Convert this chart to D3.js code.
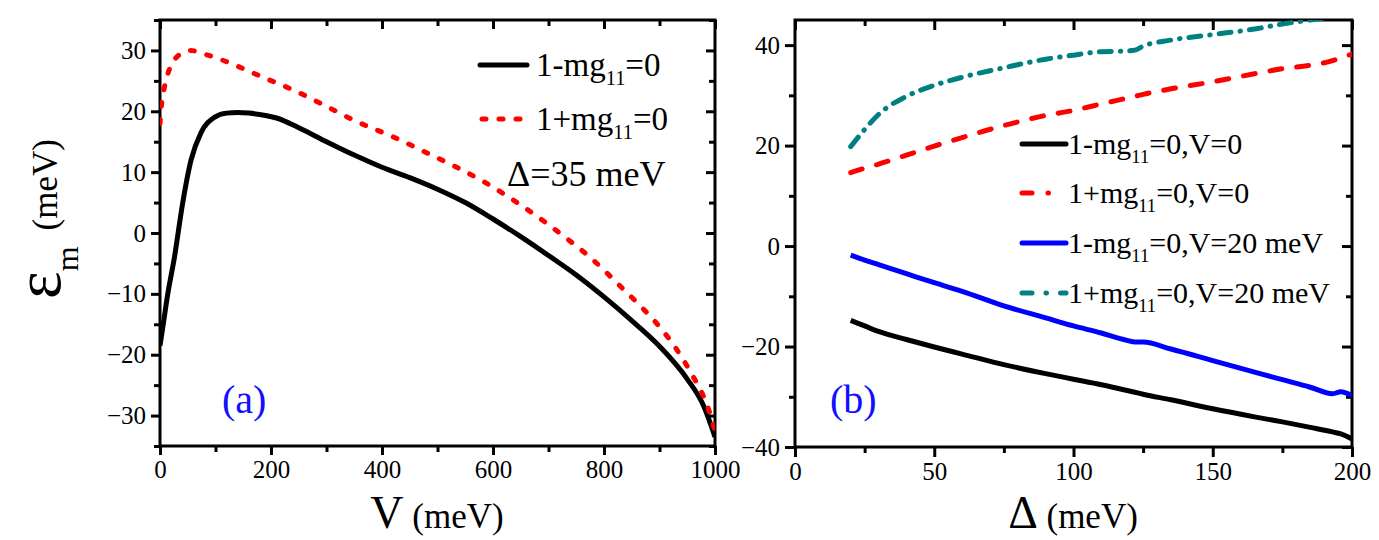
<!DOCTYPE html>
<html>
<head>
<meta charset="utf-8">
<script src="https://cdn.jsdelivr.net/npm/d3@7"></script>
<style>
  body { margin: 0; background: #fff; }
  svg text { font-family: 'Liberation Serif', Tinos, 'Times New Roman', Times, serif; }
</style>
</head>
<body>
<svg id="chart" width="1379" height="540"></svg>
<script>
// panel (a): eps_m vs V, Delta = 35 meV
const vBlack = [0, 5, 14, 26, 41, 56, 74, 98, 120, 140, 160, 190, 210, 250, 300, 350, 400, 450, 500, 550, 600, 650, 700, 750, 800, 850, 900, 950, 980, 1000]
const eBlack = [-18.5, -15.5, -10, -4, 5, 12, 16.5, 19, 19.7, 19.8, 19.7, 19.3, 18.9, 17.3, 15.0, 12.8, 10.8, 9.1, 7.2, 5.0, 2.3, -0.6, -3.7, -6.9, -10.5, -14.4, -18.6, -24.0, -28.5, -33.5]
const vRed = [0, 3, 8, 15, 25, 40, 55, 80, 110, 140, 180, 240, 300, 350, 420, 480, 530, 580, 630, 680, 730, 780, 830, 870, 900, 930, 960, 980, 990, 1000]
const eRed = [18, 21.3, 24, 26.4, 28.3, 29.6, 30, 29.4, 28.5, 27.4, 25.8, 23.5, 20.8, 18.5, 15.8, 13.2, 11, 8.6, 5.8, 2.7, -0.7, -4.4, -8.8, -12.4, -15.4, -19.0, -23.5, -27, -29.4, -32.5]

// panel (b): eps_m vs Delta
const delta = [20, 25, 30, 40, 50, 60, 75, 90, 100, 110, 118, 122, 125, 135, 150, 165, 175, 185, 193, 196, 200]
const blackV0 = [-14.8, -15.9, -17.0, -18.6, -20.1, -21.5, -23.6, -25.4, -26.5, -27.6, -28.6, -29.1, -29.5, -30.6, -32.4, -34.0, -35.0, -36.1, -37.0, -37.4, -38.4]
const redV0 = [14.6, 15.5, 16.3, 18.1, 19.9, 21.6, 24.0, 26.0, 27.0, 28.3, 29.3, 29.8, 30.2, 31.3, 32.7, 34.3, 35.3, 36.0, 36.9, 37.5, 38.2]
const blueV20 = [-1.8, -2.8, -3.7, -5.5, -7.3, -9.0, -11.9, -14.3, -15.9, -17.3, -18.6, -19.1, -19.1, -20.5, -22.8, -25.1, -26.6, -28.1, -29.4, -29.0, -29.8]
const tealV20 = [19.8, 23.2, 26.2, 29.8, 32.0, 33.6, 35.5, 37.2, 38.0, 38.7, 38.8, 39.0, 39.8, 41.0, 42.1, 43.2, 44.2, 45.0, 45.6, 45.9, 46.3]

const xTicksA = [0, 200, 400, 600, 800, 1000]
const yTicksA = [-30, -20, -10, 0, 10, 20, 30]
const xTicksB = [0, 50, 100, 150, 200]
const yTicksB = [-40, -20, 0, 20, 40]

const FONT = "'Liberation Serif', Tinos, 'Times New Roman', Times, serif"

const svg = d3.select('#chart')
const defs = svg.append('defs')

const xA = d3.scaleLinear().domain([0, 1000]).range([160, 715])
const yA = d3.scaleLinear().domain([-35, 35]).range([446, 20])
const xB = d3.scaleLinear().domain([0, 200]).range([795, 1352])
const yB = d3.scaleLinear().domain([-40, 45]).range([447, 20])

function styleAxis (g, size) {
  g.select('.domain').remove()
  g.attr('font-family', FONT).attr('font-size', size)
  g.selectAll('line').attr('stroke', '#000').attr('stroke-width', 3)
  g.selectAll('text').attr('fill', '#000')
}

function drawAxes (name, x, y, xMajor, xStep, yMajor, yStep, tickLen) {
  const [xl, xr] = x.range()
  const [yb, yt] = y.range()
  const xMinor = d3.range(x.domain()[0], x.domain()[1] + 1e-9, xStep).filter(v => !xMajor.includes(v))
  const yMinor = d3.range(Math.ceil(y.domain()[0] / yStep) * yStep, y.domain()[1] + 1e-9, yStep).filter(v => !yMajor.includes(v))
  const g = svg.append('g').attr('class', name + '-axes')
  // bottom & left, ticks out
  g.append('g').attr('transform', `translate(0,${yb})`)
    .call(d3.axisBottom(x).tickValues(xMajor).tickSize(tickLen).tickPadding(5).tickFormat(d3.format('d')))
    .call(s => styleAxis(s, 25))
  g.append('g').attr('transform', `translate(0,${yb})`)
    .call(d3.axisBottom(x).tickValues(xMinor).tickSize(6).tickFormat(''))
    .call(s => styleAxis(s, 25))
  g.append('g').attr('transform', `translate(${xl},0)`)
    .call(d3.axisLeft(y).tickValues(yMajor).tickSize(tickLen).tickPadding(5).tickFormat(d3.format('d')))
    .call(s => styleAxis(s, 25))
  g.append('g').attr('transform', `translate(${xl},0)`)
    .call(d3.axisLeft(y).tickValues(yMinor).tickSize(6).tickFormat(''))
    .call(s => styleAxis(s, 25))
  // top & right mirrors, ticks in
  g.append('g').attr('transform', `translate(0,${yt})`)
    .call(d3.axisTop(x).tickValues(xMajor).tickSize(-tickLen).tickFormat(''))
    .call(s => styleAxis(s, 25))
  g.append('g').attr('transform', `translate(0,${yt})`)
    .call(d3.axisTop(x).tickValues(xMinor).tickSize(-6).tickFormat(''))
    .call(s => styleAxis(s, 25))
  g.append('g').attr('transform', `translate(${xr},0)`)
    .call(d3.axisRight(y).tickValues(yMajor).tickSize(-tickLen).tickFormat(''))
    .call(s => styleAxis(s, 25))
  g.append('g').attr('transform', `translate(${xr},0)`)
    .call(d3.axisRight(y).tickValues(yMinor).tickSize(-6).tickFormat(''))
    .call(s => styleAxis(s, 25))
  // frame
  g.append('rect')
    .attr('x', xl).attr('y', yt).attr('width', xr - xl).attr('height', yb - yt)
    .attr('fill', 'none').attr('stroke', '#000').attr('stroke-width', 3)
  // clip
  defs.append('clipPath').attr('id', 'clip-' + name)
    .append('rect').attr('x', xl).attr('y', yt).attr('width', xr - xl).attr('height', yb - yt)
}

function drawCurve (name, x, y, xs, ys, color, width, dash) {
  const line = d3.line().x(d => x(d[0])).y(d => y(d[1])).curve(d3.curveMonotoneX)
  svg.append('path')
    .attr('clip-path', `url(#clip-${name})`)
    .attr('d', line(xs.map((v, i) => [v, ys[i]])))
    .attr('fill', 'none')
    .attr('stroke', color)
    .attr('stroke-width', width)
    .attr('stroke-linecap', dash ? 'round' : 'butt')
    .attr('stroke-linejoin', 'round')
    .attr('stroke-dasharray', dash || null)
}

function legendItem (x0, x1, y, textX, size, pre, sub, post, color, width, dash) {
  svg.append('line')
    .attr('x1', x0).attr('x2', x1).attr('y1', y).attr('y2', y)
    .attr('stroke', color).attr('stroke-width', width)
    .attr('stroke-linecap', 'round')
    .attr('stroke-dasharray', dash || null)
  const t = svg.append('text').attr('x', textX).attr('y', y + size * 0.32)
    .attr('font-family', FONT).attr('font-size', size)
  t.append('tspan').text(pre)
  t.append('tspan').attr('font-size', size * 0.62).attr('dy', size * 0.3).text(sub)
  t.append('tspan').attr('dy', -size * 0.3).text(post)
}

function label (x, y, size, txt, color) {
  return svg.append('text').attr('x', x).attr('y', y)
    .attr('font-family', FONT).attr('font-size', size)
    .attr('fill', color || '#000').text(txt)
}

// panel (a)
drawAxes('a', xA, yA, xTicksA, 100, yTicksA, 5, 9)
drawCurve('a', xA, yA, vBlack, eBlack, '#000', 5)
drawCurve('a', xA, yA, vRed, eRed, '#ff0000', 5, '4,13')

legendItem(480, 527, 65, 536, 33, '1-mg', '11', '=0', '#000', 5)
legendItem(482, 527, 119, 536, 33, '1+mg', '11', '=0', '#ff0000', 5, '4,13')
label(507, 186, 36, 'Δ=35 meV')
label(222, 413, 40, '(a)', '#1010ff')

// panel (b)
drawAxes('b', xB, yB, xTicksB, 25, yTicksB, 10, 10)
drawCurve('b', xB, yB, delta, blackV0, '#000', 5)
drawCurve('b', xB, yB, delta, redV0, '#ff0000', 5, '12,15')
drawCurve('b', xB, yB, delta, blueV20, '#0000ff', 5)
drawCurve('b', xB, yB, delta, tealV20, '#008080', 5, '12,9,0.5,9')

legendItem(1022, 1066, 144, 1068, 30, '1-mg', '11', '=0,V=0', '#000', 5)
legendItem(1022, 1066, 193, 1068, 30, '1+mg', '11', '=0,V=0', '#ff0000', 5, '10,16,0.5,20')
legendItem(1022, 1066, 243, 1068, 30, '1-mg', '11', '=0,V=20 meV', '#0000ff', 5)
legendItem(1022, 1066, 293, 1068, 30, '1+mg', '11', '=0,V=20 meV', '#008080', 5, '10,14,0.5,14')
label(830, 413, 40, '(b)', '#1010ff')

// axis titles
const xtA = svg.append('text').attr('x', 437).attr('y', 528).attr('text-anchor', 'middle').attr('font-family', FONT)
xtA.append('tspan').attr('font-size', 46).text('V')
xtA.append('tspan').attr('font-size', 35).text(' (meV)')
const xtB = svg.append('text').attr('x', 1073).attr('y', 528).attr('text-anchor', 'middle').attr('font-family', FONT)
xtB.append('tspan').attr('font-size', 46).text('Δ')
xtB.append('tspan').attr('font-size', 35).text(' (meV)')

const yt = svg.append('text').attr('transform', 'translate(60,299) rotate(-90)').attr('font-family', FONT)
yt.append('tspan').attr('font-size', 66).text('ε')
yt.append('tspan').attr('font-size', 32).attr('dy', 18).text('m')
yt.append('tspan').attr('font-size', 35).attr('dy', -21).attr('dx', 16).text('(meV)')
</script>
</body>
</html>
